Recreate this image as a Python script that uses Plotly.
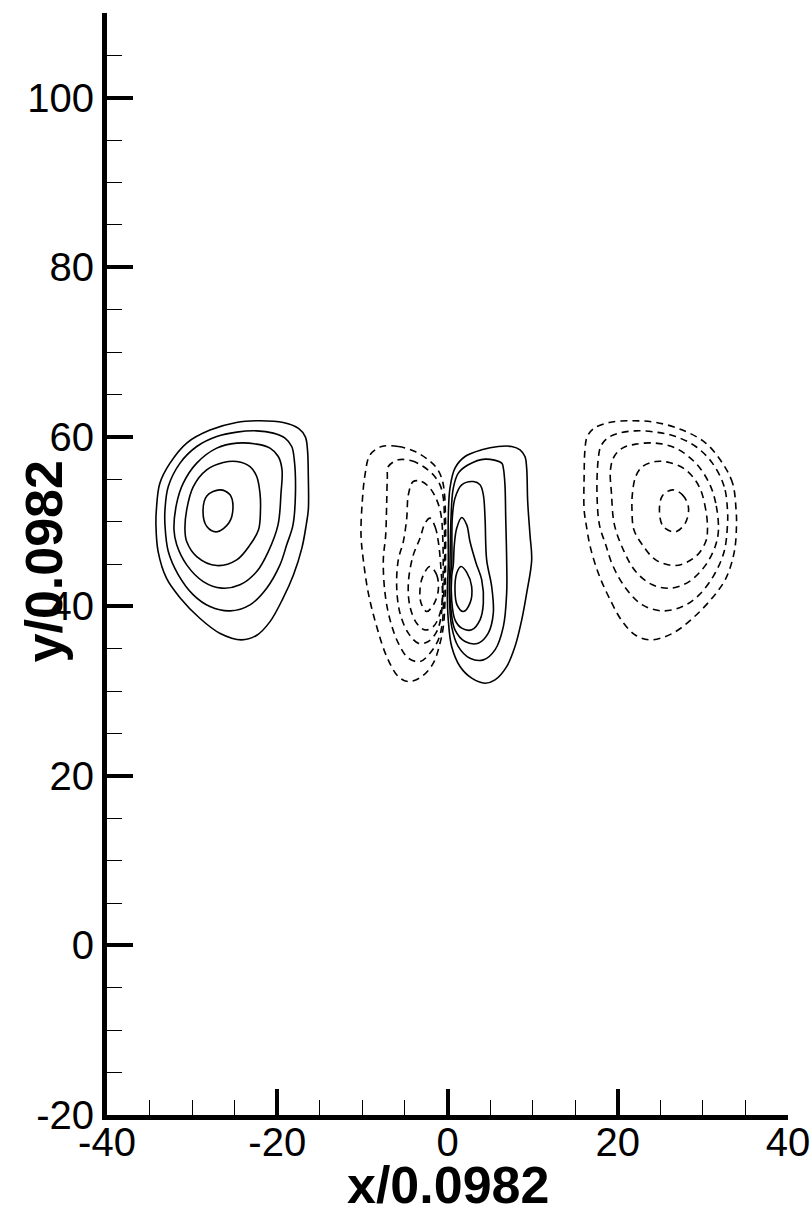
import plotly.graph_objects as go

# ---------------- contour lines (x/0.0982, y/0.0982) ----------------
# Left vortex (solid), outer -> inner
LEFT_1 = [(-34.2, 51.4), (-33.8, 54.5), (-32.6, 56.9), (-30.6, 59.3), (-27.9, 60.8), (-24.8, 61.7),
          (-22.0, 61.9), (-19.3, 61.7), (-17.5, 61.0), (-16.7, 60.0), (-16.45, 58.5), (-16.35, 55.3),
          (-16.35, 51.4), (-16.6, 49.6), (-17.1, 46.9), (-18.1, 43.7), (-19.3, 41.0), (-20.85, 38.2),
          (-22.4, 36.6), (-24.2, 36.05), (-26.7, 36.8), (-29.1, 38.6), (-31.4, 41.0), (-33.0, 43.3),
          (-34.0, 46.5), (-34.25, 49.6)]
LEFT_2 = [(-33.19, 51.39), (-32.8, 54.14), (-31.42, 56.9), (-29.46, 58.86), (-27.11, 60.04), (-24.76, 60.56),
          (-22.41, 60.71), (-20.46, 60.44), (-19.09, 59.85), (-18.3, 58.86), (-18.0, 57.29), (-17.86, 53.39),
          (-18.15, 49.62), (-18.89, 47.26), (-19.68, 44.9), (-21.24, 42.15), (-23.2, 40.18), (-25.55, 39.47),
          (-27.9, 39.98), (-29.86, 41.36), (-31.62, 43.72), (-32.8, 46.47), (-33.19, 49.62)]
LEFT_3 = [(-32.13, 49.03), (-31.81, 52.18), (-31.04, 54.54), (-29.46, 56.9), (-27.11, 58.67), (-24.76, 59.26),
          (-22.41, 59.14), (-20.85, 58.67), (-19.88, 57.68), (-19.44, 56.11), (-19.56, 53.36), (-19.91, 49.62),
          (-21.05, 46.47), (-22.41, 44.11), (-24.38, 42.54), (-26.53, 42.15), (-28.69, 42.93), (-30.64, 44.9),
          (-31.81, 47.26)]
LEFT_4 = [(-30.84, 49.03), (-30.64, 51.39), (-29.86, 54.14), (-28.29, 56.11), (-26.34, 56.97), (-24.76, 57.09),
          (-23.2, 56.5), (-22.41, 55.32), (-22.03, 53.36), (-21.97, 51.39), (-22.2, 49.03), (-23.2, 47.26),
          (-24.76, 45.49), (-27.11, 44.82), (-29.46, 45.88), (-30.64, 47.65)]
LEFT_5 = [(-26.73, 53.75), (-25.55, 53.16), (-25.2, 51.74), (-25.67, 49.86), (-27.08, 48.8), (-28.25, 49.39),
          (-28.72, 51.16), (-28.25, 53.05)]

# Right vortex (dashed), outer -> inner
RIGHT_1 = [(33.9, 51.4), (33.5, 54.5), (32.3, 56.9), (30.3, 59.3), (27.6, 60.8), (24.5, 61.7),
           (21.7, 61.9), (19.0, 61.7), (17.2, 61.0), (16.4, 60.0), (16.15, 58.5), (16.05, 55.3),
           (16.05, 51.4), (16.3, 49.6), (16.8, 46.9), (17.8, 43.7), (19.0, 41.0), (20.55, 38.2),
           (22.1, 36.6), (23.9, 36.05), (26.4, 36.8), (28.8, 38.6), (31.1, 41.0), (32.7, 43.3),
           (33.7, 46.5), (33.95, 49.6)]
RIGHT_2 = [(32.89, 51.39), (32.5, 54.14), (31.12, 56.9), (29.16, 58.86), (26.81, 60.04), (24.46, 60.56),
           (22.11, 60.71), (20.16, 60.44), (18.79, 59.85), (18.0, 58.86), (17.7, 57.29), (17.56, 53.39),
           (17.85, 49.62), (18.59, 47.26), (19.38, 44.9), (20.94, 42.15), (22.9, 40.18), (25.25, 39.47),
           (27.6, 39.98), (29.56, 41.36), (31.32, 43.72), (32.5, 46.47), (32.89, 49.62)]
RIGHT_3 = [(31.83, 49.03), (31.51, 52.18), (30.74, 54.54), (29.16, 56.9), (26.81, 58.67), (24.46, 59.26),
           (22.11, 59.14), (20.55, 58.67), (19.58, 57.68), (19.14, 56.11), (19.26, 53.36), (19.61, 49.62),
           (20.75, 46.47), (22.11, 44.11), (24.08, 42.54), (26.23, 42.15), (28.39, 42.93), (30.34, 44.9),
           (31.51, 47.26)]
RIGHT_4 = [(30.54, 49.03), (30.34, 51.39), (29.56, 54.14), (27.99, 56.11), (26.04, 56.97), (24.46, 57.09),
           (22.9, 56.5), (22.11, 55.32), (21.73, 53.36), (21.67, 51.39), (21.9, 49.03), (22.9, 47.26),
           (24.46, 45.49), (26.81, 44.82), (29.16, 45.88), (30.34, 47.65)]
RIGHT_5 = [(26.43, 53.75), (27.6, 53.16), (28.3, 51.74), (27.95, 49.86), (26.78, 48.8), (25.37, 49.39),
           (24.9, 51.16), (25.25, 53.05)]

# Central pair: dashed (left of x=0), outer -> inner
MID_NEG_1 = [(-7.73, 58.86), (-5.78, 58.86), (-3.82, 58.27), (-2.26, 57.29), (-1.27, 56.31), (-0.68, 55.13),
             (-0.38, 53.55), (-0.23, 50.21), (-0.23, 45.49), (-0.29, 40.77), (-0.49, 37.62), (-0.88, 35.66),
             (-1.67, 33.3), (-3.03, 31.72), (-4.6, 31.13), (-5.78, 31.72), (-7.14, 34.08), (-8.32, 37.62),
             (-9.3, 41.56), (-9.89, 45.49), (-10.16, 48.44), (-10.01, 52.37), (-9.69, 55.52), (-9.1, 57.88)]
MID_NEG_2 = [(-5.78, 57.29), (-4.21, 57.17), (-2.84, 56.5), (-1.67, 55.52), (-0.88, 54.34), (-0.49, 52.77),
             (-0.35, 49.03), (-0.35, 44.31), (-0.47, 40.77), (-0.61, 38.02), (-1.08, 36.05), (-2.06, 34.48),
             (-3.23, 33.49), (-4.6, 33.89), (-5.78, 35.66), (-6.75, 38.41), (-7.34, 41.56), (-7.54, 45.49),
             (-7.26, 48.44), (-7.14, 52.37), (-7.07, 55.13), (-6.95, 56.5)]
MID_NEG_3 = [(-4.02, 54.73), (-3.03, 54.73), (-2.06, 53.95), (-1.27, 52.57), (-0.76, 50.8), (-0.53, 47.26),
             (-0.53, 43.13), (-0.76, 38.8), (-1.27, 37.03), (-2.26, 35.85), (-3.43, 35.66), (-4.6, 36.84),
             (-5.58, 39.2), (-5.97, 42.34), (-5.78, 45.49), (-5.19, 47.65), (-4.79, 50.41), (-4.6, 53.16)]
MID_NEG_4 = [(-2.06, 50.41), (-1.47, 49.42), (-1.08, 47.65), (-0.76, 44.31), (-0.61, 40.77), (-1.0, 38.8),
             (-1.67, 37.62), (-2.64, 37.23), (-3.62, 38.02), (-4.41, 39.98), (-4.6, 42.74), (-4.05, 45.96),
             (-3.23, 48.04), (-2.64, 49.81)]
MID_NEG_5 = [(-2.06, 44.7), (-1.27, 43.72), (-1.08, 41.95), (-1.59, 40.3), (-2.44, 39.39), (-3.11, 40.41),
             (-3.23, 41.95), (-2.88, 43.6)]

# Central pair: solid (right of x=0), outer -> inner
MID_POS_1 = [(5.97, 58.86), (7.54, 58.86), (8.52, 58.47), (9.1, 57.68), (9.3, 56.31), (9.42, 52.37),
             (9.69, 48.44), (9.89, 45.49), (9.3, 41.56), (8.72, 38.41), (7.93, 35.26), (6.95, 32.9),
             (5.58, 31.33), (4.41, 30.94), (2.84, 31.53), (1.47, 32.9), (0.49, 35.26), (0.09, 38.41),
             (-0.02, 41.56), (0.09, 44.9), (0.09, 50.41), (0.29, 53.95), (0.88, 56.31), (2.06, 57.68),
             (4.02, 58.47)]
MID_POS_2 = [(4.41, 57.37), (6.37, 56.9), (6.56, 56.31), (6.75, 54.34), (6.84, 50.41), (6.95, 45.49),
             (6.95, 41.56), (6.56, 37.62), (5.58, 34.87), (4.21, 33.69), (2.64, 33.89), (1.27, 35.26),
             (0.49, 37.62), (0.21, 41.56), (0.29, 44.9), (0.41, 50.41), (0.68, 53.95), (1.27, 55.72),
             (2.44, 56.7)]
MID_POS_3 = [(3.03, 54.73), (3.82, 54.34), (4.21, 53.16), (4.41, 50.41), (4.6, 45.49), (5.19, 42.34),
             (5.38, 39.2), (4.79, 36.84), (3.62, 35.66), (2.06, 35.85), (0.88, 37.23), (0.41, 39.59),
             (0.29, 43.13), (0.49, 44.9), (0.56, 50.41), (0.88, 52.77), (1.67, 54.34)]
MID_POS_4 = [(1.67, 50.49), (2.26, 49.62), (2.64, 47.65), (3.35, 45.13), (4.02, 43.13), (4.21, 40.38),
             (3.82, 38.41), (2.84, 37.23), (1.67, 37.43), (0.88, 38.41), (0.49, 40.77), (0.49, 43.52),
             (0.68, 44.9), (0.8, 47.26), (1.08, 49.22)]
MID_POS_5 = [(1.59, 44.7), (2.29, 43.95), (2.84, 42.34), (2.64, 40.38), (1.86, 39.39), (1.12, 40.18),
             (0.88, 41.95), (1.08, 43.91)]

SOLID_CONTOURS = [LEFT_1, LEFT_2, LEFT_3, LEFT_4, LEFT_5,
                  MID_POS_1, MID_POS_2, MID_POS_3, MID_POS_4, MID_POS_5]
DASHED_CONTOURS = [RIGHT_1, RIGHT_2, RIGHT_3, RIGHT_4, RIGHT_5,
                   MID_NEG_1, MID_NEG_2, MID_NEG_3, MID_NEG_4, MID_NEG_5]

# Axes
X_TICKS = [-40, -20, 0, 20, 40]
X_TICK_LABELS = ["-40", "-20", "0", "20", "40"]
Y_TICKS = [-20, 0, 20, 40, 60, 80, 100]
Y_TICK_LABELS = ["-20", "0", "20", "40", "60", "80", "100"]
X_TITLE = "x/0.0982"
Y_TITLE = "y/0.0982"

FONT = "Liberation Sans, Arial, Helvetica, sans-serif"

fig = go.Figure()


def add_loop(points, dash):
    xs = [p[0] for p in points] + [points[0][0]]
    ys = [p[1] for p in points] + [points[0][1]]
    fig.add_trace(go.Scatter(
        x=xs, y=ys, mode="lines",
        line=dict(color="black", width=1.6, dash=dash, shape="spline", smoothing=1.0),
        hoverinfo="skip", showlegend=False))


for c in SOLID_CONTOURS:
    add_loop(c, "solid")
for c in DASHED_CONTOURS:
    add_loop(c, "7px,5px")

axis_common = dict(
    showline=True, linecolor="black", linewidth=5, mirror=False,
    showgrid=False, zeroline=False, automargin=False,
    ticks="inside", ticklen=26, tickwidth=4, tickcolor="black",
    tickfont=dict(family=FONT, size=40, color="black"),
    minor=dict(ticks="inside", ticklen=15, tickwidth=1, tickcolor="black",
               tickmode="linear", tick0=0, dtick=5, showgrid=False),
)

fig.update_xaxes(range=[-40, 40], tickmode="array", tickvals=X_TICKS, ticktext=X_TICK_LABELS,
                 ticklabelstandoff=-12, **axis_common)
fig.update_yaxes(range=[-20, 110], tickmode="array", tickvals=Y_TICKS, ticktext=Y_TICK_LABELS,
                 **axis_common)

fig.add_annotation(text=X_TITLE, xref="paper", yref="paper", x=0.5, y=-0.0635,
                   xanchor="center", yanchor="middle", showarrow=False,
                   font=dict(family=FONT, size=52, color="black", weight="bold"))
fig.add_annotation(text=Y_TITLE, xref="paper", yref="paper", x=-0.093, y=0.502,
                   xanchor="center", yanchor="middle", showarrow=False, textangle=-90,
                   font=dict(family=FONT, size=52, color="black", weight="bold"))

fig.update_layout(
    width=812, height=1215,
    margin=dict(l=107, r=24, t=13, b=100),
    paper_bgcolor="white", plot_bgcolor="white",
    showlegend=False,
)

fig.write_html("out.html")
